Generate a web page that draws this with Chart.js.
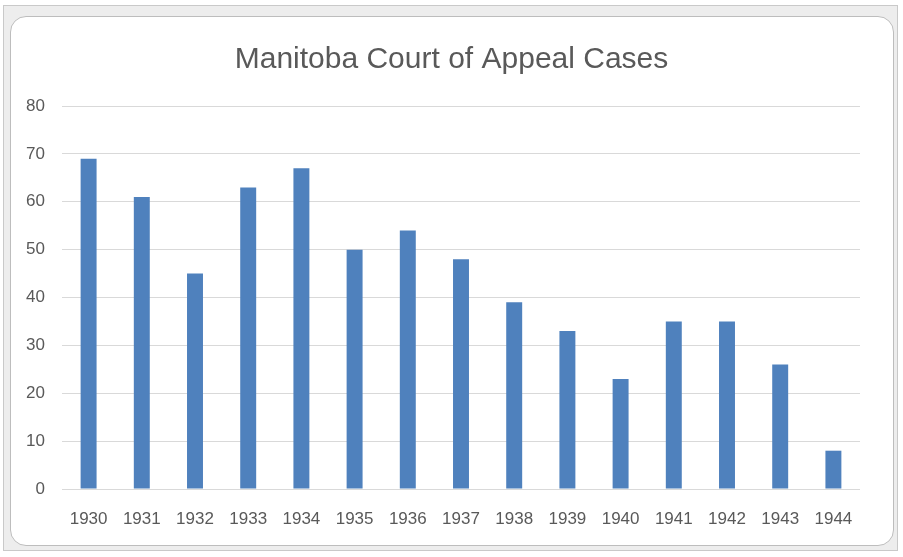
<!DOCTYPE html>
<html>
<head>
<meta charset="utf-8">
<script src="https://cdn.jsdelivr.net/npm/chart.js@4"></script>
<style>
  html, body { margin: 0; padding: 0; background: #fff; }
  body { width: 903px; height: 557px; position: relative; overflow: hidden; }
  #frame {
    position: absolute; left: 3px; top: 5px; width: 895px; height: 546px;
    background: #ededed; border: 1px solid #c9c9c9; box-sizing: border-box;
  }
  #card {
    position: absolute; left: 10px; top: 16px; width: 884px; height: 530px;
    background: #fff; border: 1px solid #bdbdbd; border-radius: 16px; box-sizing: border-box;
  }
  #chart { position: absolute; left: 11px; top: 17px; }
</style>
</head>
<body>
<div id="frame"></div>
<div id="card"></div>
<canvas id="chart" width="881" height="527"></canvas>
<script>
// chart data
const years = ["1930", "1931", "1932", "1933", "1934", "1935", "1936", "1937", "1938", "1939", "1940", "1941", "1942", "1943", "1944"];
const cases = [69, 61, 45, 63, 67, 50, 54, 48, 39, 33, 23, 35, 35, 26, 8];
const yTicks = [0, 10, 20, 30, 40, 50, 60, 70, 80];

const textColor = "#595959";
const fontFamily = "'Liberation Sans', sans-serif";

const ctx = document.getElementById("chart").getContext("2d");

new Chart(ctx, {
  type: "bar",
  data: {
    labels: years,
    datasets: [
      {
        label: "Cases",
        data: cases,
        backgroundColor: "#4f81bd",
        borderWidth: 0,
        barPercentage: 0.3,
        categoryPercentage: 1,
      },
    ],
  },
  options: {
    responsive: false,
    animation: false,
    plugins: {
      legend: { display: false },
      tooltip: { enabled: false },
      title: {
        display: true,
        text: "Manitoba Court of Appeal Cases",
        color: textColor,
        font: { family: fontFamily, size: 30, weight: "normal" },
        padding: { top: 25, bottom: 28 },
      },
    },
    scales: {
      x: {
        grid: { display: false },
        border: { display: false },
        ticks: {
          color: textColor,
          font: { family: fontFamily, size: 17 },
          padding: 12,
          maxRotation: 0,
        },
        afterFit: (scale) => { scale.height = 55; },
      },
      y: {
        min: 0,
        max: 80,
        afterBuildTicks: (scale) => { scale.ticks = yTicks.map((v) => ({ value: v })); },
        grid: { color: "#d9d9d9", lineWidth: 1, drawTicks: false },
        border: { display: false },
        ticks: {
          color: textColor,
          font: { family: fontFamily, size: 17 },
          padding: 17,
        },
        afterFit: (scale) => { scale.width = 51; },
      },
      // empty right axis, only keeps space at the right side
      yRight: {
        position: "right",
        min: 0,
        max: 80,
        grid: { display: false },
        border: { display: false },
        ticks: { display: false },
        afterFit: (scale) => { scale.width = 32; },
      },
    },
  },
});
</script>
</body>
</html>
